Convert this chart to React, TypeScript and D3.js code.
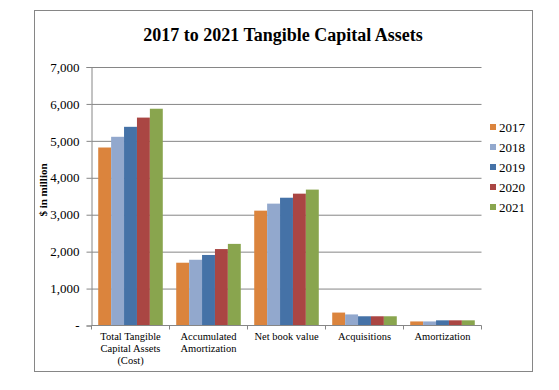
import React, { useEffect, useRef } from "react";
import * as d3 from "d3";

const categories = [
    ["Total Tangible", "Capital Assets", "(Cost)"],
    ["Accumulated", "Amortization"],
    ["Net book value"],
    ["Acquisitions"],
    ["Amortization"],
];
const years = ["2017", "2018", "2019", "2020", "2021"];
const colors = ["#DB843D", "#92A8CD", "#4572A7", "#AA4643", "#89A54E"];

// values per year, in category order
const v2017 = [4820, 1700, 3110, 350, 110];
const v2018 = [5110, 1780, 3300, 300, 110];
const v2019 = [5380, 1910, 3460, 250, 140];
const v2020 = [5630, 2070, 3570, 250, 140];
const v2021 = [5870, 2210, 3680, 250, 140];
const series = [v2017, v2018, v2019, v2020, v2021];

const yTicks = [0, 1000, 2000, 3000, 4000, 5000, 6000, 7000];

const W = 559;
const H = 390;
const font = "'Liberation Serif', 'Times New Roman', serif";

export default function App() {
    const svgRef = useRef<SVGSVGElement>(null);

    useEffect(() => {
        if (!svgRef.current) return;
        const svg = d3.select(svgRef.current);
        svg.selectAll("*").remove();

        const left = 91.5, right = 481.5, top = 67, bottom = 325.5;

        // chart frame
        svg.append("rect")
            .attr("x", 34.5).attr("y", 10.5)
            .attr("width", 498).attr("height", 361)
            .attr("fill", "white")
            .attr("stroke", "#868686");

        svg.append("text")
            .attr("x", 283).attr("y", 41)
            .attr("text-anchor", "middle")
            .attr("font-family", font)
            .attr("font-weight", "bold")
            .attr("font-size", 18)
            .text("2017 to 2021 Tangible Capital Assets");

        const x = d3.scaleBand<number>()
            .domain(d3.range(categories.length))
            .range([left, right]);
        const x1 = d3.scaleBand<number>()
            .domain(d3.range(years.length))
            .range([0, x.bandwidth()])
            .paddingOuter(0.52);
        const y = d3.scaleLinear().domain([0, 7000]).range([bottom, top]);

        // grid + y axis
        const yAxis = svg.append("g")
            .attr("transform", `translate(${left},0)`)
            .call(d3.axisLeft(y).tickValues(yTicks).tickSize(5).tickPadding(7)
                .tickFormat((d) => (+d === 0 ? "-" : d3.format(",")(+d))));
        yAxis.select(".domain").attr("stroke", "#868686");
        yAxis.selectAll(".tick line").attr("stroke", "#868686");
        yAxis.selectAll(".tick text")
            .attr("font-family", font).attr("font-size", 13).attr("fill", "#000");
        yAxis.selectAll(".tick")
            .filter((d) => +(d as number) > 0)
            .append("line")
            .attr("x2", right - left)
            .attr("stroke", "#868686");

        // bars
        const groups = svg.append("g").selectAll("g")
            .data(series)
            .join("g")
            .attr("fill", (_, i) => colors[i]);
        groups.selectAll("rect")
            .data((d, si) => d.map((v, ci) => ({ v, ci, si })))
            .join("rect")
            .attr("x", (d) => x(d.ci)! + x1(d.si)!)
            .attr("width", x1.bandwidth())
            .attr("y", (d) => y(d.v))
            .attr("height", (d) => y(0) - y(d.v));

        // x axis
        const xAxis = svg.append("g")
            .attr("transform", `translate(0,${bottom})`);
        xAxis.append("line")
            .attr("x1", left).attr("x2", right)
            .attr("stroke", "#868686");
        xAxis.selectAll("line.tk")
            .data(d3.range(categories.length + 1))
            .join("line")
            .attr("class", "tk")
            .attr("x1", (i) => left + i * x.step())
            .attr("x2", (i) => left + i * x.step())
            .attr("y2", 4)
            .attr("stroke", "#868686");
        const labels = xAxis.selectAll("text")
            .data(categories)
            .join("text")
            .attr("text-anchor", "middle")
            .attr("font-family", font)
            .attr("font-size", 10.5)
            .attr("transform", (_, i) => `translate(${x(i)! + x.bandwidth() / 2},0)`);
        labels.selectAll("tspan")
            .data((d) => d)
            .join("tspan")
            .attr("x", 0)
            .attr("y", (_, i) => 14 + i * 12)
            .text((d) => d);

        // y title
        svg.append("text")
            .attr("transform", "translate(47,190) rotate(-90)")
            .attr("text-anchor", "middle")
            .attr("font-family", font)
            .attr("font-weight", "bold")
            .attr("font-size", 11)
            .text("$ in million");

        // legend
        const lg = svg.append("g").selectAll("g")
            .data(years)
            .join("g")
            .attr("transform", (_, i) => `translate(490,${127 + i * 20})`);
        lg.append("rect")
            .attr("x", 0).attr("y", -3)
            .attr("width", 6).attr("height", 6)
            .attr("fill", (_, i) => colors[i]);
        lg.append("text")
            .attr("x", 9).attr("y", 4.5)
            .attr("font-family", font)
            .attr("font-size", 13)
            .text((d) => d);
    }, []);

    return (
        <svg ref={svgRef} width={W} height={H}
            style={{ position: "absolute", left: 0, top: 0 }} />
    );
}
